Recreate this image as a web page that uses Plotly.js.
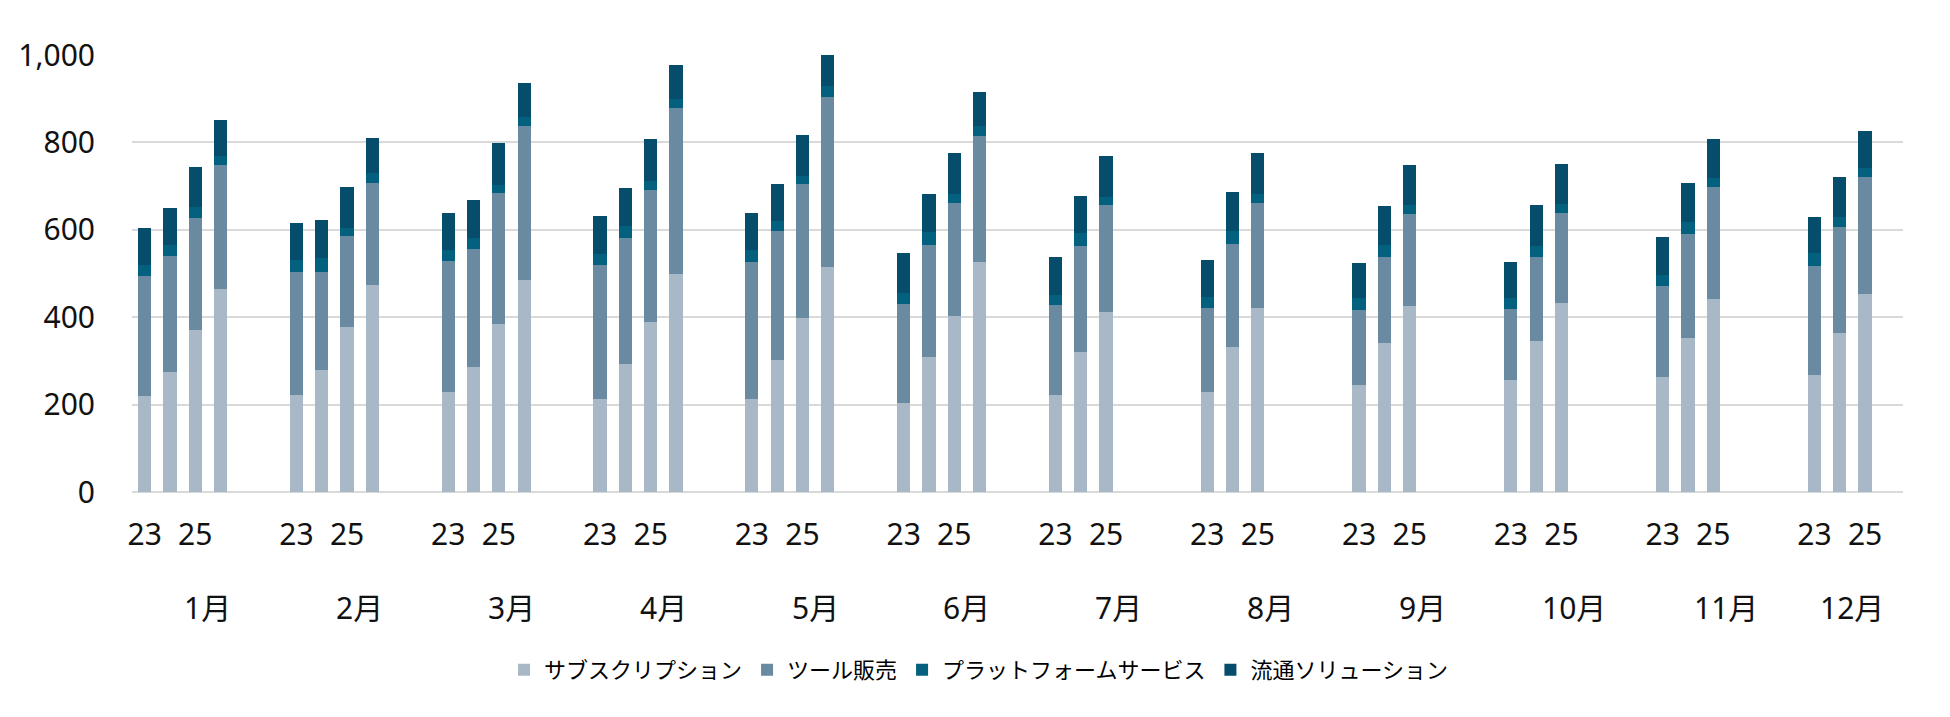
<!DOCTYPE html>
<html>
<head>
<meta charset="utf-8">
<script src="https://cdn.plot.ly/plotly-3.0.1.min.js"></script>
<style>
  html, body { margin: 0; padding: 0; background: #ffffff; }
  #chart { width: 1950px; height: 717px; }
</style>
</head>
<body>
<div id="chart"></div>
<script>
// ---- data ----
const months = ['1月','2月','3月','4月','5月','6月','7月','8月','9月','10月','11月','12月'];
const years = ['23','24','25','26'];
const seriesNames = ['サブスクリプション','ツール販売','プラットフォームサービス','流通ソリューション'];

// values per month, per year (23, 24, 25, 26)
const subscription = [[219,275,371,465],[222,279,378,474],[229,285,384,485],[212,294,389,499],[212,302,399,516],[204,309,403,527],[222,321,411,null],[229,332,420,null],[246,340,426,null],[257,345,433,null],[264,353,442,null],[267,363,453,null]];
const toolSales    = [[275,264,257,283],[281,225,208,234],[300,271,300,352],[307,287,303,379],[315,296,305,389],[226,256,258,287],[206,242,245,null],[193,236,241,null],[170,198,211,null],[161,192,206,null],[208,238,256,null],[250,244,267,null]];
const platform     = [[25,27,24,20],[28,31,19,23],[24,25,19,20],[26,28,20,22],[27,23,20,23],[26,29,20,23],[23,29,20,null],[24,30,20,null],[27,27,19,null],[27,27,21,null],[25,27,20,null],[31,23,21,null]];
const distribution = [[86,84,92,83],[84,88,92,79],[86,87,95,79],[86,86,95,76],[84,84,94,74],[91,87,95,79],[86,85,94,null],[85,88,94,null],[80,89,93,null],[81,93,90,null],[86,90,89,null],[82,90,84,null]];

const colors = ['#A9B8C6','#6A8AA2','#03607F','#054D6B'];

// ---- layout helpers ----
const GAP = 2;                       // empty slots between month groups
const groupSize = years.length + GAP;
const slot = (m, y) => m * groupSize + y;

const xs = [];
months.forEach((_, m) => years.forEach((_, y) => xs.push(slot(m, y))));

function flat(arr) { const out = []; arr.forEach(r => r.forEach(v => out.push(v))); return out; }

const allSeries = [subscription, toolSales, platform, distribution];
const traces = allSeries.map((s, i) => ({
  type: 'bar',
  name: seriesNames[i],
  x: xs,
  y: flat(s),
  marker: { color: colors[i], line: { width: 0 } },
  hoverinfo: 'x+y+name'
}));

// year tick labels: every other year label is shown
const tickvals = [], ticktext = [];
months.forEach((_, m) => years.forEach((yr, y) => {
  if (y % 2 === 0) { tickvals.push(slot(m, y)); ticktext.push(yr); }
}));

const lastSlot = slot(months.length - 1, years.length - 1);

// month labels centred on their group of category slots
const annotations = months.map((mName, m) => {
  const n = (m < months.length - 1) ? groupSize : years.length;
  return {
    x: slot(m, 0) + (n - 1) / 2,
    xref: 'x',
    y: -0.265, yref: 'paper',
    yanchor: 'middle', xanchor: 'center',
    text: mName, showarrow: false,
    font: { size: 30, color: '#111111' }
  };
});

const FONT = 'Noto Sans, Noto Sans CJK JP, sans-serif';

const layout = {
  width: 1950, height: 717,
  margin: { l: 132, r: 47, t: 55, b: 225 },
  paper_bgcolor: '#ffffff', plot_bgcolor: '#ffffff',
  font: { family: FONT, color: '#111111' },
  barmode: 'stack',
  bargap: 0.48,
  showlegend: true,
  legend: {
    orientation: 'h', x: 0.478, xanchor: 'center',
    y: -0.407, yanchor: 'middle',
    traceorder: 'normal',
    font: { size: 22, color: '#000000' },
    itemclick: false
  },
  xaxis: {
    type: 'linear',
    range: [-0.5, lastSlot + 0.5],
    tickmode: 'array', tickvals: tickvals, ticktext: ticktext,
    showgrid: false, zeroline: false, showline: false,
    ticks: '', ticklabelstandoff: 22,
    tickfont: { size: 30, color: '#111111' },
    fixedrange: true
  },
  yaxis: {
    range: [0, 1000],
    tickvals: [0, 200, 400, 600, 800, 1000],
    tickformat: ',d',
    showgrid: true, gridcolor: '#D9D9D9', gridwidth: 2,
    zeroline: true, zerolinecolor: '#D9D9D9', zerolinewidth: 2,
    showline: false, ticks: '', ticklabelstandoff: 36,
    tickfont: { size: 30, color: '#111111' },
    fixedrange: true
  },
  annotations: annotations
};

Plotly.newPlot('chart', traces, layout, { displayModeBar: false, staticPlot: true });
</script>
</body>
</html>
